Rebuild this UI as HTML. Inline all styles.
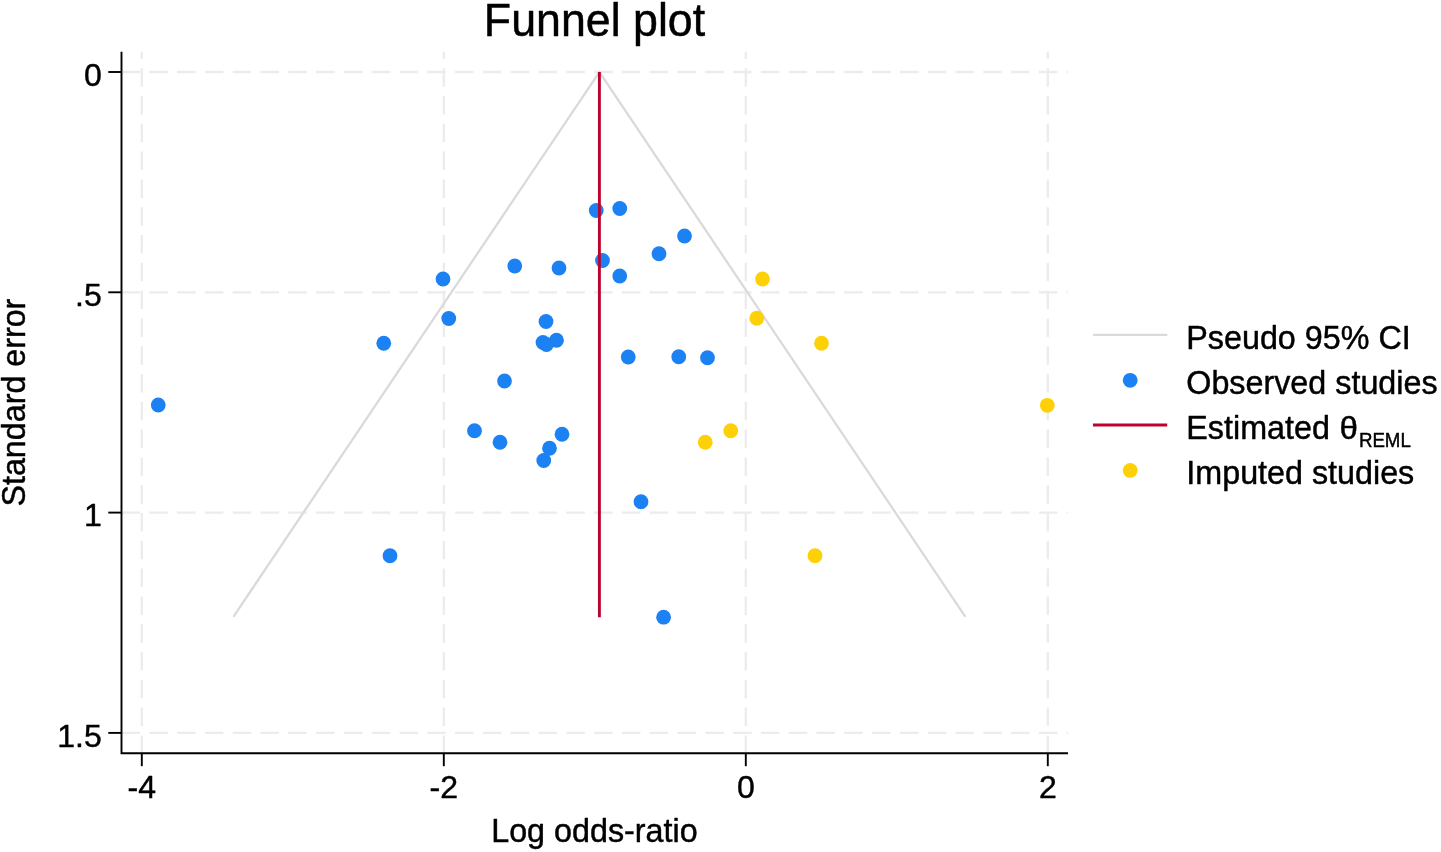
<!DOCTYPE html>
<html lang="en">
<head>
<meta charset="utf-8">
<title>Funnel plot</title>
<style>
html,body{margin:0;padding:0;background:#fff;}
body{width:1441px;height:852px;overflow:hidden;}
svg{display:block;}
text{font-family:"Liberation Sans",sans-serif;fill:#000;stroke:#000;stroke-width:0.45px;stroke-linejoin:round;}
.t{font-size:32px;}
</style>
</head>
<body>
<svg width="1441" height="852" viewBox="0 0 1441 852">
<rect x="0" y="0" width="1441" height="852" fill="#ffffff"/>

<g stroke="#ececec" stroke-width="2.3" stroke-dasharray="18.5 9.3" fill="none">
<line x1="121.5" y1="72.00" x2="1068.0" y2="72.00"/>
<line x1="121.5" y1="292.30" x2="1068.0" y2="292.30"/>
<line x1="121.5" y1="512.60" x2="1068.0" y2="512.60"/>
<line x1="121.5" y1="732.90" x2="1068.0" y2="732.90"/>
<line x1="141.80" y1="753.9" x2="141.80" y2="51.8"/>
<line x1="443.80" y1="753.9" x2="443.80" y2="51.8"/>
<line x1="745.80" y1="753.9" x2="745.80" y2="51.8"/>
<line x1="1047.80" y1="753.9" x2="1047.80" y2="51.8"/>
</g>
<polyline points="233.4,616.8 599.4,72.0 965.4,616.8" fill="none" stroke="#dadada" stroke-width="2.3" stroke-linejoin="miter"/>
<g fill="#1c82f3">
<circle cx="443" cy="279" r="7.4"/>
<circle cx="448.75" cy="318.5" r="7.4"/>
<circle cx="383.75" cy="343.25" r="7.4"/>
<circle cx="596.25" cy="210.5" r="7.4"/>
<circle cx="619.75" cy="208.5" r="7.4"/>
<circle cx="684.5" cy="236" r="7.4"/>
<circle cx="659" cy="253.75" r="7.4"/>
<circle cx="602.5" cy="260.5" r="7.4"/>
<circle cx="514.75" cy="266" r="7.4"/>
<circle cx="559" cy="268" r="7.4"/>
<circle cx="619.75" cy="276" r="7.4"/>
<circle cx="546" cy="321.5" r="7.4"/>
<circle cx="556.5" cy="340.25" r="7.4"/>
<circle cx="543" cy="342.5" r="7.4"/>
<circle cx="546.5" cy="344.5" r="7.4"/>
<circle cx="628.25" cy="357" r="7.4"/>
<circle cx="678.75" cy="356.75" r="7.4"/>
<circle cx="707.5" cy="357.75" r="7.4"/>
<circle cx="504.5" cy="381" r="7.4"/>
<circle cx="158.25" cy="405" r="7.4"/>
<circle cx="474.5" cy="430.75" r="7.4"/>
<circle cx="500" cy="442.25" r="7.4"/>
<circle cx="562" cy="434.25" r="7.4"/>
<circle cx="549.5" cy="448.25" r="7.4"/>
<circle cx="543.75" cy="460.5" r="7.4"/>
<circle cx="641" cy="501.75" r="7.4"/>
<circle cx="390" cy="555.75" r="7.4"/>
<circle cx="663.6" cy="617.2" r="7.4"/>
</g>
<line x1="599.4" y1="72.0" x2="599.4" y2="617.1999999999999" stroke="#ba042f" stroke-width="2.9"/>
<g fill="#fdd008">
<circle cx="762.5" cy="279" r="7.4"/>
<circle cx="756.75" cy="318.25" r="7.4"/>
<circle cx="821.5" cy="343.25" r="7.4"/>
<circle cx="730.75" cy="430.75" r="7.4"/>
<circle cx="705.25" cy="442.25" r="7.4"/>
<circle cx="815" cy="555.75" r="7.4"/>
<circle cx="1047.3" cy="405.3" r="7.4"/>
</g>
<g stroke="#000" stroke-width="1.9" fill="none">
<polyline points="121.5,51.8 121.5,753.3 1068.0,753.3" stroke-linejoin="miter"/>
<line x1="108.3" y1="72.00" x2="121.5" y2="72.00"/>
<line x1="108.3" y1="292.30" x2="121.5" y2="292.30"/>
<line x1="108.3" y1="512.60" x2="121.5" y2="512.60"/>
<line x1="108.3" y1="732.90" x2="121.5" y2="732.90"/>
<line x1="141.80" y1="753.3" x2="141.80" y2="766.2"/>
<line x1="443.80" y1="753.3" x2="443.80" y2="766.2"/>
<line x1="745.80" y1="753.3" x2="745.80" y2="766.2"/>
<line x1="1047.80" y1="753.3" x2="1047.80" y2="766.2"/>
</g>
<text transform="translate(101.7 85.6) scale(1 0.995)" font-size="32" text-anchor="end">0</text>
<text transform="translate(101.7 305.9) scale(1 0.995)" font-size="32" text-anchor="end">.5</text>
<text transform="translate(101.7 526.2) scale(1 0.995)" font-size="32" text-anchor="end">1</text>
<text transform="translate(101.7 746.5) scale(1 0.995)" font-size="32" text-anchor="end">1.5</text>
<text transform="translate(141.8 797.65) scale(1 0.995)" font-size="32" text-anchor="middle">-4</text>
<text transform="translate(443.8 797.65) scale(1 0.995)" font-size="32" text-anchor="middle">-2</text>
<text transform="translate(745.8 797.65) scale(1 0.995)" font-size="32" text-anchor="middle">0</text>
<text transform="translate(1047.8 797.65) scale(1 0.995)" font-size="32" text-anchor="middle">2</text>
<text transform="translate(594.5 36.1) scale(1 1.025)" font-size="44.75" text-anchor="middle">Funnel plot</text>
<text transform="translate(594.4 842.3) scale(1 1.035)" font-size="32.3" text-anchor="middle">Log odds-ratio</text>
<text transform="translate(24.8 402.6) rotate(-90) scale(1 1.035)" font-size="32.25" text-anchor="middle">Standard error</text>
<line x1="1093" y1="334.8" x2="1167.2" y2="334.8" stroke="#dadada" stroke-width="2.3"/>
<circle cx="1130.2" cy="380.3" r="7.4" fill="#1c82f3"/>
<line x1="1093" y1="425" x2="1167.2" y2="425" stroke="#ba042f" stroke-width="2.9"/>
<circle cx="1130.2" cy="470.4" r="7.4" fill="#fdd008"/>
<text transform="translate(1186.3 349.1) scale(1 1.035)" font-size="32.3" text-anchor="start">Pseudo 95% CI</text>
<text transform="translate(1186.3 393.5) scale(1 1.035)" font-size="32.3" text-anchor="start">Observed studies</text>
<text transform="translate(1186.3 438.6) scale(1 1.035)" font-size="32.3" text-anchor="start">Estimated</text>
<text transform="translate(1339.6 438.6) scale(1.03 0.995)" font-size="32.1">θ</text>
<text transform="translate(1358.9 446.7) scale(1 1.035)" font-size="18.7" text-anchor="start">REML</text>
<text transform="translate(1186.3 483.7) scale(1 1.035)" font-size="32.3" text-anchor="start">Imputed studies</text>
</svg>
</body>
</html>
